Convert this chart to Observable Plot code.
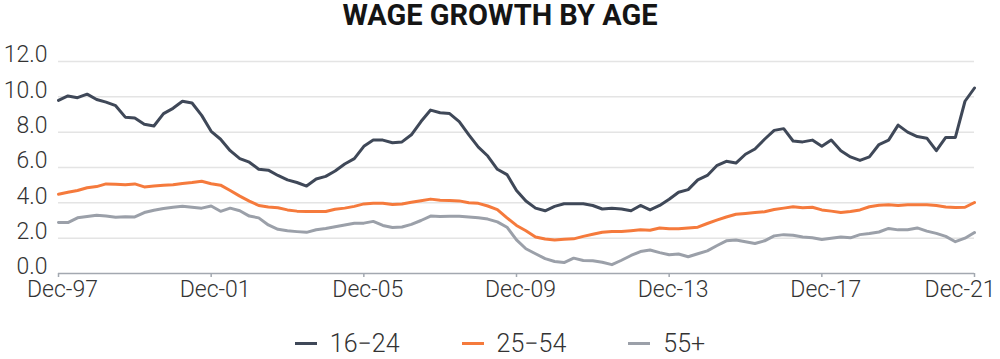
<!DOCTYPE html>
<html><head><meta charset="utf-8">
<script src="https://cdn.jsdelivr.net/npm/d3@7"></script>
<script src="https://cdn.jsdelivr.net/npm/@observablehq/plot@0.6"></script>
<style>
body{margin:0;background:#fff;width:1000px;height:359px;position:relative;overflow:hidden;font-family:Roboto,sans-serif}
#title{position:absolute;left:0;width:1000px;top:1px;text-align:center;font-weight:700;font-size:29px;line-height:1;color:#151515}
#chart{position:absolute;left:0;top:40px}
#chart text{font-weight:300}
#legend{position:absolute;left:0;width:1000px;top:331px;display:flex;justify-content:center;align-items:center;font-size:25px;font-weight:300;line-height:1;color:#333}
.item{display:flex;align-items:center;margin:0 31px}
.sw{width:22px;height:3px;margin-right:13px}
</style></head>
<body>
<div id="title">WAGE GROWTH BY AGE</div>
<div id="chart"></div>
<div id="legend"></div>
<script>
// Quarterly readings, Dec-1997 .. Dec-2021
const startDate = new Date(Date.UTC(1997, 11, 1));
const stepMonths = 3;
const seriesNames = ["16\u221224", "25\u221254", "55+"];
const seriesColors = ["#3f4858", "#f57a3c", "#9ba0a9"];
const age16to24 = [9.8,10.05,9.95,10.15,9.85,9.7,9.5,8.85,8.8,8.45,8.35,9.05,9.35,9.75,9.65,8.95,8.05,7.6,6.95,6.5,6.3,5.9,5.85,5.55,5.3,5.15,4.95,5.35,5.5,5.8,6.2,6.5,7.2,7.55,7.55,7.4,7.45,7.85,8.6,9.25,9.1,9.05,8.6,7.85,7.15,6.65,5.9,5.6,4.7,4.1,3.7,3.55,3.8,3.95,3.95,3.95,3.85,3.65,3.7,3.65,3.55,3.85,3.6,3.85,4.2,4.6,4.75,5.3,5.55,6.1,6.35,6.25,6.75,7.05,7.6,8.1,8.2,7.5,7.45,7.55,7.2,7.55,6.95,6.6,6.4,6.6,7.3,7.55,8.4,8.0,7.75,7.66,6.95,7.7,7.7,9.75,10.5];
const age25to54 = [4.49,4.6,4.7,4.85,4.92,5.07,5.05,5.02,5.07,4.9,4.95,5.0,5.02,5.1,5.15,5.22,5.08,5.0,4.7,4.38,4.1,3.85,3.77,3.72,3.6,3.53,3.51,3.51,3.51,3.64,3.7,3.8,3.94,3.98,3.98,3.9,3.93,4.03,4.12,4.21,4.15,4.13,4.11,4.0,3.97,3.82,3.62,3.15,2.72,2.42,2.07,1.95,1.9,1.94,1.96,2.1,2.22,2.33,2.38,2.38,2.42,2.47,2.45,2.58,2.53,2.53,2.58,2.62,2.83,3.02,3.2,3.35,3.4,3.45,3.5,3.62,3.7,3.78,3.72,3.75,3.6,3.53,3.45,3.51,3.6,3.78,3.86,3.89,3.85,3.89,3.89,3.89,3.85,3.76,3.73,3.75,4.02];
const age55plus = [2.89,2.88,3.15,3.23,3.3,3.25,3.18,3.21,3.2,3.45,3.58,3.68,3.75,3.8,3.75,3.7,3.82,3.52,3.7,3.55,3.25,3.15,2.75,2.5,2.42,2.37,2.33,2.48,2.55,2.65,2.75,2.84,2.85,2.95,2.72,2.6,2.63,2.78,3.0,3.25,3.22,3.24,3.24,3.2,3.15,3.08,2.92,2.62,1.9,1.4,1.12,0.84,0.68,0.62,0.87,0.74,0.72,0.64,0.5,0.75,1.02,1.24,1.33,1.18,1.06,1.1,0.95,1.12,1.28,1.57,1.85,1.9,1.8,1.7,1.85,2.13,2.2,2.17,2.07,2.02,1.92,2.0,2.07,2.02,2.2,2.26,2.35,2.55,2.47,2.48,2.58,2.4,2.27,2.1,1.8,2.0,2.32];
const xTickYears = [1997, 2001, 2005, 2009, 2013, 2017, 2021];
const yTicks = [0, 2, 4, 6, 8, 10, 12];

const allSeries = [age16to24, age25to54, age55plus];
const rows = [];
allSeries.forEach((vals, s) => vals.forEach((v, i) => rows.push({
  date: d3.utcMonth.offset(startDate, i * stepMonths), value: v, series: seriesNames[s]
})));
const tickDates = xTickYears.map(y => new Date(Date.UTC(y, 11, 1)));
const fmt = d3.utcFormat("%b-%y");
const axisColor = "#a3a8b0";
const textColor = "#333333";

const chart = Plot.plot({
  width: 1000, height: 276,
  marginTop: 21, marginBottom: 43, marginLeft: 58, marginRight: 26,
  style: {fontFamily: "Roboto, sans-serif", fontSize: "23px", color: textColor, background: "transparent", overflow: "visible"},
  x: {type: "utc", domain: [tickDates[0], tickDates[tickDates.length - 1]], label: null},
  y: {domain: [0, 12], label: null},
  color: {domain: seriesNames, range: seriesColors},
  marks: [
    Plot.gridY(yTicks.filter(d => d > 0), {stroke: "#e4e4e4", strokeOpacity: 1, strokeWidth: 1.5}),
    Plot.axisY(yTicks, {label: null, tickSize: 0, tickPadding: 11, dy: -6.5, tickFormat: d => d.toFixed(1), fontSize: 23, fill: textColor}),
    Plot.ruleY([0], {stroke: axisColor, strokeWidth: 1.5}),
    Plot.axisX(tickDates, {label: null, tickSize: 4, tickFormat: () => "", stroke: axisColor, strokeWidth: 1.5}),
    Plot.text(tickDates.slice(0, -1), {x: d => d, frameAnchor: "bottom", lineAnchor: "top", dy: 7.5, dx: 4, text: d => fmt(d), fontSize: 23, fill: textColor}),
    Plot.text(tickDates.slice(-1), {x: d => d, frameAnchor: "bottom", lineAnchor: "top", textAnchor: "end", dy: 7.5, dx: 21, text: d => fmt(d), fontSize: 23, fill: textColor}),
    Plot.line(rows, {x: "date", y: "value", z: "series", stroke: "series", strokeWidth: 3, strokeLinejoin: "round"})
  ]
});
document.getElementById("chart").appendChild(chart);

const legend = document.getElementById("legend");
seriesNames.forEach((name, i) => {
  const item = document.createElement("div");
  item.className = "item";
  const sw = document.createElement("span");
  sw.className = "sw";
  sw.style.background = seriesColors[i];
  const label = document.createElement("span");
  label.textContent = name;
  item.appendChild(sw); item.appendChild(label);
  legend.appendChild(item);
});
</script>
</body></html>
